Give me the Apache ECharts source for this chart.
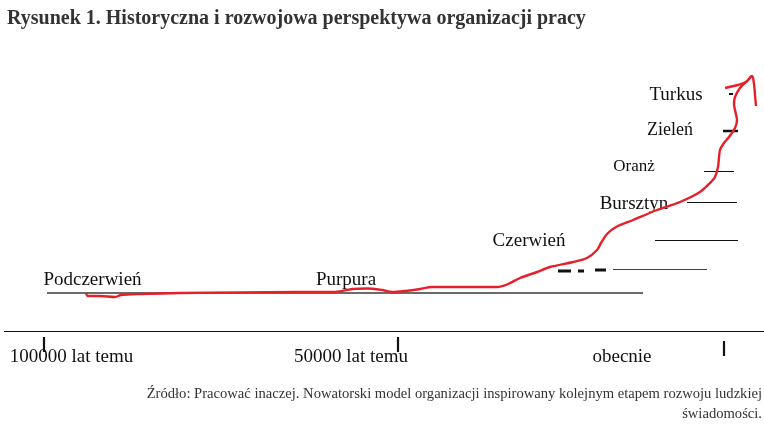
<!DOCTYPE html>
<html><head><meta charset="utf-8">
<script src="https://cdn.jsdelivr.net/npm/echarts@6/dist/echarts.min.js"></script>
<style>html,body{margin:0;padding:0;background:#fff}#c{width:764px;height:430px}</style>
</head><body><div id="c"></div>
<script>
// ---- data (schematic positions; x = horizontal position, y = vertical level, top = 0) ----
var curveX = [86,88,100,115,121,140,180,300,333,353,367,382,392,405,420,432,480,497,507,520,537,550,573,587,597,601,607,616,633,657,680,700,710,715,718,720,724,729,735,737,735,734,735,740,748,752];
var curveY = [293,296,296,297,295,294,293,292,292,289,288.5,290,292,291,289,287,287,287,284.5,278,272,267,262,258,250,243,234,227,220,210,202,192,183,177,167,150,143,137,128,120,110,104,97,88,80,76];
var arrowX = [725,738,746,752,754,755,756];
var arrowY = [88,85,82,76,84,95,106];
// level lines: start x, end x, level y
var levelStart = [47,613,655,687,704,723,729,558,578,595];
var levelEnd   = [643,707,738,737,734,738,733,571,584,606];
var levelY     = [293,269.5,240.5,202.5,171.5,131,94,271,271,270];
var stageNames = ['Turkus','Zieleń','Oranż','Bursztyn','Czerwień','Podczerwień','Purpura'];
var stageX = [676,670,634,634,529,92.5,346];
var stageY = [95,130,167,204,241,280,280];
// time axis
var axisStart = 4, axisEnd = 764, axisLevel = 331.5;
var tickValues = [44,398,724];
var tickTop = [337,337,341], tickBottom = [352,352,356];
var tickLabels = ['100000 lat temu','50000 lat temu','obecnie'];
var tickLabelX = [71.5,351,622];
var tickLabelY = 357.5;
var titleText = 'Rysunek 1. Historyczna i rozwojowa perspektywa organizacji pracy';
var sourceLines = ['Źródło: Pracować inaczej. Nowatorski model organizacji inspirowany kolejnym etapem rozwoju ludzkiej','świadomości.'];

// ---- styles ----
var levelWidth = [1.5,1,1,1,1,2.5,2,3,3,3];
var levelColor = ['#3a3a3a','#444','#111','#111','#111','#111','#111','#111','#111','#111'];
var stageFont = [19,18,17,19,19,19,19];
var serif = '"Liberation Serif","Times New Roman",serif';

function seg(d, color, width, z){
  return {type:'line', silent:true, symbol:'none', z:z||3, animation:false,
    lineStyle:{color:color, width:width}, data:d};
}
var series = [];
var curve = seg(curveX.map(function(x,i){return [x,curveY[i]];}), '#e5202b', 2.4, 5); curve.smooth = 0.3;
var arrow = seg(arrowX.map(function(x,i){return [x,arrowY[i]];}), '#e5202b', 2.4, 5); arrow.smooth = 0.3;
series.push(curve, arrow);
for (var i=0;i<levelStart.length;i++){
  series.push(seg([[levelStart[i],levelY[i]],[levelEnd[i],levelY[i]]], levelColor[i], levelWidth[i]));
}
series.push(seg([[axisStart,axisLevel],[axisEnd,axisLevel]], '#111', 1.2));
for (var t=0;t<tickValues.length;t++){
  series.push(seg([[tickValues[t],tickTop[t]],[tickValues[t],tickBottom[t]]], '#111', 2.2));
}
series.push({type:'scatter', silent:true, symbolSize:1, z:4,
  itemStyle:{color:'rgba(0,0,0,0)', opacity:1},
  label:{show:true, position:'inside', formatter:'{b}', color:'#111', fontFamily:serif},
  data: stageNames.map(function(n,i){return {name:n, value:[stageX[i],stageY[i]], label:{fontSize:stageFont[i]}};})
    .concat(tickLabels.map(function(n,i){return {name:n, value:[tickLabelX[i],tickLabelY], label:{fontSize:19}};}))});

var option = {
  animation:false,
  backgroundColor:'#fff',
  title:{text:titleText, left:2, top:4,
    textStyle:{fontFamily:serif, fontWeight:'bold', fontSize:20, color:'#333'}},
  grid:{left:0, right:0, top:0, bottom:0, containLabel:false},
  xAxis:{type:'value', min:0, max:764, show:false},
  yAxis:{type:'value', min:0, max:430, inverse:true, show:false},
  graphic:[
    {type:'text', right:2, top:387, style:{text:sourceLines[0], font:'14.6px '+serif, fill:'#333'}},
    {type:'text', right:2, top:407, style:{text:sourceLines[1], font:'14.6px '+serif, fill:'#333'}}
  ],
  series:series
};
var chart = echarts.init(document.getElementById('c'));
chart.setOption(option);
</script></body></html>
